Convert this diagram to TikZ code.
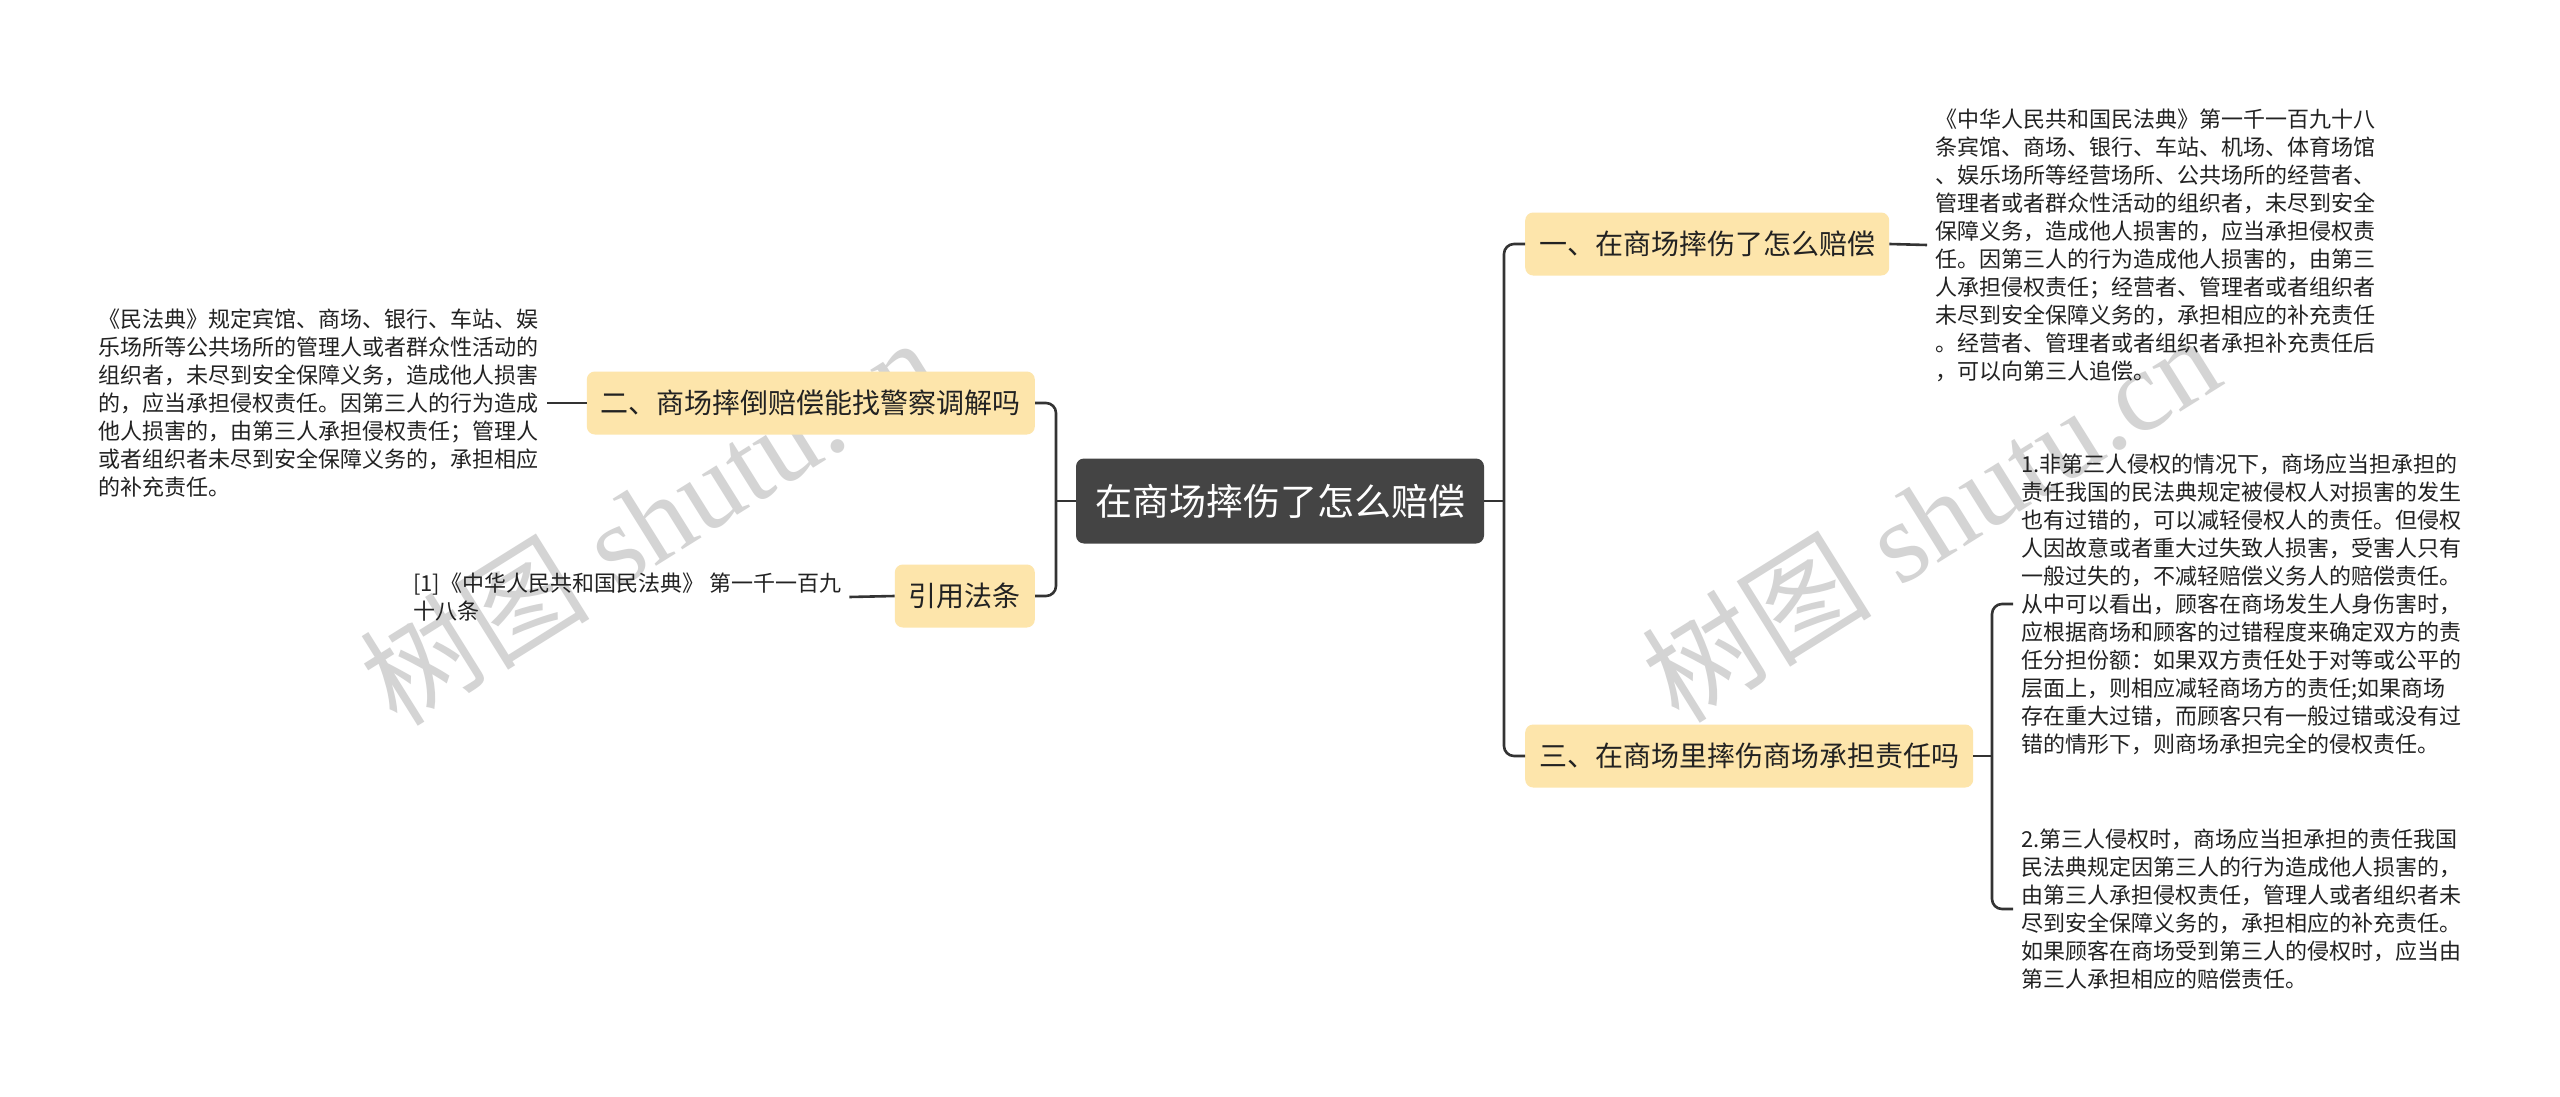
\documentclass[tikz,border=0pt]{standalone}
\usepackage{fontspec}
\setmainfont{Noto Sans CJK SC}
\newfontfamily\cjkf{Noto Sans CJK SC}
\newfontfamily\wmlatin{Liberation Serif}
\definecolor{nodefill}{HTML}{FDE5AB}
\definecolor{rootfill}{HTML}{444444}
\definecolor{linecol}{HTML}{333333}
\definecolor{txtcol}{HTML}{222222}
\definecolor{wmcol}{HTML}{D4D4D4}
\begin{document}
\begin{tikzpicture}[x=1pt,y=-1pt,
  conn/.style={draw=linecol, line width=2.6pt},
  rootbox/.style={fill=rootfill, text=white, rounded corners=8pt, minimum width=408pt, minimum height=85pt, inner sep=0pt, font=\fontsize{37}{44}\selectfont},
  topicbox/.style={fill=nodefill, text=txtcol, rounded corners=8pt, minimum height=63pt, inner xsep=14pt, inner ysep=0pt, font=\fontsize{28}{34}\selectfont},
  leaftext/.style={text=txtcol, align=left, inner xsep=8pt, inner ysep=0pt, font=\fontsize{22}{28}\selectfont},
  watermark/.style={text=wmcol, rotate=32, inner sep=0pt}
]
\useasboundingbox (0,0) rectangle (2560,1097);
\fill[white] (0,0) rectangle (2560,1097);

% watermarks (behind everything)
\node[watermark] (w1) at (648,520) {\fontsize{115}{115}\selectfont\cjkf 树图\hspace{0.25em}\wmlatin shutu.cn};
\node[watermark] (w2) at (1930,517) {\fontsize{115}{115}\selectfont\cjkf 树图\hspace{0.25em}\wmlatin shutu.cn};

% root
\node[rootbox] (c) at (1280,501) {在商场摔伤了怎么赔偿};

% topics
\node[topicbox, anchor=west] (n1) at (1525,244) {一、在商场摔伤了怎么赔偿};
\node[topicbox, anchor=west] (n3) at (1525,756) {三、在商场里摔伤商场承担责任吗};
\node[topicbox, anchor=east] (n2) at (1035,403) {二、商场摔倒赔偿能找警察调解吗};
\node[topicbox, anchor=east] (n4) at (1035,596) {引用法条};

% leaf texts
\node[leaftext, anchor=west] (t1) at (1927,245) {《中华人民共和国民法典》第一千一百九十八\\条宾馆、商场、银行、车站、机场、体育场馆\\、娱乐场所等经营场所、公共场所的经营者、\\管理者或者群众性活动的组织者，未尽到安全\\保障义务，造成他人损害的，应当承担侵权责\\任。因第三人的行为造成他人损害的，由第三\\人承担侵权责任；经营者、管理者或者组织者\\未尽到安全保障义务的，承担相应的补充责任\\。经营者、管理者或者组织者承担补充责任后\\，可以向第三人追偿。};

\node[leaftext, anchor=west] (t3a) at (2013,604) {1.非第三人侵权的情况下，商场应当担承担的\\责任我国的民法典规定被侵权人对损害的发生\\也有过错的，可以减轻侵权人的责任。但侵权\\人因故意或者重大过失致人损害，受害人只有\\一般过失的，不减轻赔偿义务人的赔偿责任。\\从中可以看出，顾客在商场发生人身伤害时，\\应根据商场和顾客的过错程度来确定双方的责\\任分担份额：如果双方责任处于对等或公平的\\层面上，则相应减轻商场方的责任;如果商场\\存在重大过错，而顾客只有一般过错或没有过\\错的情形下，则商场承担完全的侵权责任。};

\node[leaftext, anchor=west] (t3b) at (2013,909) {2.第三人侵权时，商场应当担承担的责任我国\\民法典规定因第三人的行为造成他人损害的，\\由第三人承担侵权责任，管理人或者组织者未\\尽到安全保障义务的，承担相应的补充责任。\\如果顾客在商场受到第三人的侵权时，应当由\\第三人承担相应的赔偿责任。};

\node[leaftext, anchor=east] (t2) at (547,403) {《民法典》规定宾馆、商场、银行、车站、娱\\乐场所等公共场所的管理人或者群众性活动的\\组织者，未尽到安全保障义务，造成他人损害\\的，应当承担侵权责任。因第三人的行为造成\\他人损害的，由第三人承担侵权责任；管理人\\或者组织者未尽到安全保障义务的，承担相应\\的补充责任。};

\node[leaftext, anchor=west] (t4) at (405,597) {[1]《中华人民共和国民法典》 第一千一百九\\十八条};

% bracket coordinates
\coordinate (bR) at (1504,501);
\coordinate (bL) at (1056,501);
\coordinate (bS) at (1992,756);

% connectors right
\draw[conn] (c.east) -- (bR |- c.east);
\draw[conn, rounded corners=10pt] (n1.west) -| (bR |- c.east) |- (n3.west);
\draw[conn] (n1.east) -- (t1.west);
\draw[conn] (n3.east) -- (bS |- n3.east);
\draw[conn, rounded corners=10pt] (t3a.west) -| (bS |- n3.east) |- (t3b.west);

% connectors left
\draw[conn] (c.west) -- (bL |- c.west);
\draw[conn, rounded corners=10pt] (n2.east) -| (bL |- c.west) |- (n4.east);
\draw[conn] (n2.west) -- (t2.east);
\draw[conn] (n4.west) -- (t4.east);
\end{tikzpicture}
\end{document}
